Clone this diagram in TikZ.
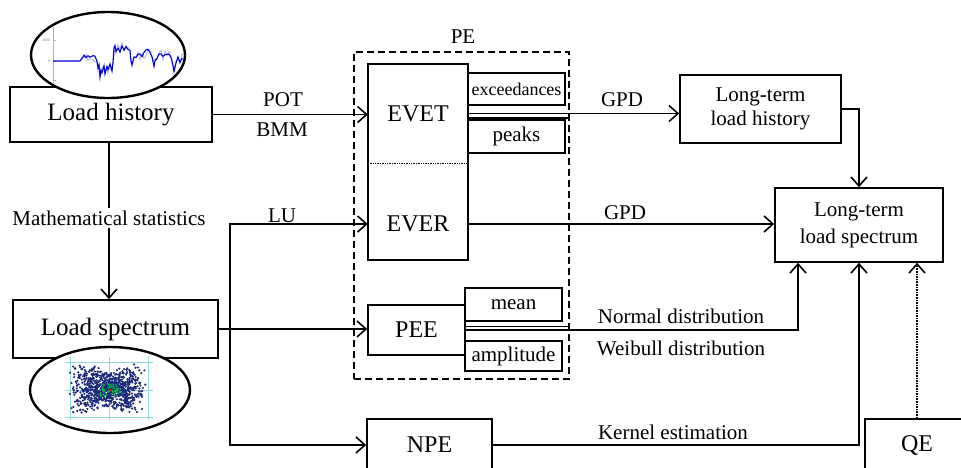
\documentclass[tikz,border=0pt]{standalone}
\usepackage{fontspec}
\setmainfont{Liberation Serif}
\usetikzlibrary{arrows.meta,shapes.geometric}
\definecolor{dotblue}{HTML}{1B2A7A}
\definecolor{gridcyan}{HTML}{8FDADA}

\begin{document}
\begin{tikzpicture}[x=1pt,y=-1pt,
    every node/.style={font=\fontsize{21}{24}\selectfont, inner sep=1pt},
    box/.style={draw, line width=1.6pt, inner sep=0pt},
    big/.style={font=\fontsize{24}{27}\selectfont},
    arr/.style={line width=1.6pt, -{Straight Barb[length=9pt,width=16pt,line width=1.6pt]}},
    lin/.style={line width=1.6pt}]
    \useasboundingbox (0,0) rectangle (961,467);
    \clip (0,0) rectangle (961,467);

    % left column
    \node[box, minimum width=202, minimum height=55, font=\fontsize{25}{28}\selectfont] (hist) at (111,114.5) {Load history};
    \node[box, minimum width=205, minimum height=58, font=\fontsize{25}{28}\selectfont] (spec) at (115.5,329) {Load spectrum};
    \node[draw, ellipse, line width=2.4pt, fill=white, minimum width=154, minimum height=86] (histplot) at (108,55) {};
    \node[draw, ellipse, line width=2.4pt, fill=white, minimum width=160, minimum height=86] (specplot) at (110,390) {};

    % time history inside the upper ellipse
    \begin{scope}
        \clip (histplot.center) ellipse [x radius=75pt, y radius=41pt];
        \draw[gray!60, line width=0.8pt] (53,27) -- (53,84);
        \foreach \ty in {40,61,80} \draw[gray!60, line width=0.6pt] (53,\ty) -- (56,\ty);
        \node[font=\fontsize{4}{4}\selectfont, text=gray, inner sep=0pt] (tk1) at (46,40) {2000};
        \node[font=\fontsize{4}{4}\selectfont, text=gray, inner sep=0pt] (tk2) at (49,61) {0};
        \pgfmathsetseed{42}
        \draw[blue!30, line width=0.8pt] (80,61)
            foreach \px/\py in {82/60,84/57,86/58,88/56,90/55,93/57,95/58,97/62,98/70,99/66,100/75,101/68,102/72,104/65,105/73,107/67,108/72,110/66,112/70,113/64,114/50,115/46,116/52,118/48,120/51,122/46,124/50,126/46,128/50,130/52,131/60,132/64,134/58,136/60,138/56,140/55,142/58,144/54,146/52,148/50,150/53,152/58,154/66,155/62,157/57,159/55,161/52,163/55,165/53,167/56,169/54,171/58,173/66,174/71,176/63,178/58,180/62,182/58,185/60}
            { -- (\px,{\py+5*rand}) };
        \draw[blue!85!black, line width=1.1pt] (53,61) -- (80,61)
            foreach \px/\py in {82/60,84/57,86/58,88/56,90/55,93/57,95/58,97/62,98/70,99/66,100/75,101/68,102/72,104/65,105/73,107/67,108/72,110/66,112/70,113/64,114/50,115/46,116/52,118/48,120/51,122/46,124/50,126/46,128/50,130/52,131/60,132/64,134/58,136/60,138/56,140/55,142/58,144/54,146/52,148/50,150/53,152/58,154/66,155/62,157/57,159/55,161/52,163/55,165/53,167/56,169/54,171/58,173/66,174/71,176/63,178/58,180/62,182/58,185/60}
            { -- (\px,{\py+2.5*rand}) };
    \end{scope}

    % scatter plot inside the lower ellipse
    \begin{scope}
        \clip (specplot.center) ellipse [x radius=78pt, y radius=41pt];
        \foreach \gx in {70,109,148} \draw[gridcyan, line width=0.8pt] (\gx,357) -- (\gx,420);
        \foreach \gy in {362,390,417} \draw[gridcyan, line width=0.8pt] (65,\gy) -- (153,\gy);
        \pgfmathsetseed{7}
        \foreach \i in {1,...,900}{
            \pgfmathsetmacro{\ta}{rand}
            \pgfmathsetmacro{\sg}{ifthenelse(rand<0,-1,1)}
            \pgfmathsetmacro{\dx}{109+26*\ta+14*rand}
            \pgfmathsetmacro{\dy}{389+\sg*12*\ta+13*rand}
            \fill[dotblue] (\dx,\dy) circle (1.2pt);
        }
        \foreach \i in {1,...,40}{
            \pgfmathsetmacro{\dx}{110+10*rand}
            \pgfmathsetmacro{\dy}{390+6*rand}
            \fill[green!45!teal] (\dx,\dy) circle (1.1pt);
        }
        \fill[red] (110,390) circle (1.5pt);
    \end{scope}

    % parameter estimation block
    \node[draw, dashed, dash pattern=on 7pt off 4pt, line width=1.6pt, minimum width=215, minimum height=327] (pe) at (461.5,215.5) {};
    \node (pelbl) at (463,37) {PE};
    \node[big, minimum width=100, minimum height=99] (evet) at (418,113.5) {EVET};
    \node[big, minimum width=100, minimum height=72] (ever) at (418,224) {EVER};
    \draw[lin] (evet.north west) rectangle (ever.south east);
    \draw[line width=1.4pt, densely dotted] (evet.south west) -- (evet.south east);
    \node[box, minimum width=97, minimum height=32, font=\fontsize{18}{20}\selectfont] (exc) at (516.5,89) {exceedances};
    \node[box, minimum width=97, minimum height=33] (peaks) at (516.5,136.5) {peaks};
    \node[box, big, minimum width=97, minimum height=50] (pee) at (416.5,330) {PEE};
    \node[box, minimum width=97, minimum height=33] (mean) at (513.5,304.5) {mean};
    \node[box, minimum width=97, minimum height=30] (ampl) at (513.5,356) {amplitude};
    \node[box, big, minimum width=125, minimum height=52] (npe) at (429.5,445) {NPE};

    % right column
    \node[box, minimum width=161, minimum height=68, align=center] (lth) at (760.5,109) {Long-term\\load history};
    \node[box, minimum width=168, minimum height=74, align=center, font=\fontsize{21}{27}\selectfont] (lts) at (859,225) {Long-term\\load spectrum};
    \node[box, big, minimum width=104, minimum height=52] (qe) at (917,445) {QE};

    % connectors
    \node[fill=white, inner sep=2pt] (mstat) at (109,218) {Mathematical statistics};
    \draw[lin] (hist.south -| mstat.north) -- (mstat.north);
    \draw[arr] (mstat.south) -- (mstat.south |- spec.north);
    \draw[arr] (hist.east) -- (hist.east -| evet.west);
    \node (pot) at (283,100) {POT};
    \node (bmm) at (282,130) {BMM};
    \draw[arr] (spec.east) -- (spec.east -| pee.west);
    \coordinate (br) at (230,329);
    \draw[arr] (br) |- (ever.west);
    \draw[arr] (br) |- (npe.west);
    \node (lu) at (282,216) {LU};
    \draw[arr] (evet.east) -- (evet.east -| lth.west);
    \draw[lin] ([yshift=-4.5pt]evet.east) -- ([yshift=-4.5pt]evet.east -| pe.east);
    \node (gpda) at (622,100) {GPD};
    \draw[arr] (lth.east) -| (lts.north);
    \draw[arr] (ever.east) -- (ever.east -| lts.west);
    \node (gpdb) at (625,213) {GPD};
    \draw[arr] (pee.east) -| ([xshift=-61pt]lts.south);
    \draw[lin] ([yshift=3.5pt]pee.east) -- ([yshift=3.5pt]pee.east -| pe.east);
    \node (normal) at (681,316) {Normal distribution};
    \node (weibull) at (681,348) {Weibull distribution};
    \draw[arr] (npe.east) -| (lts.south);
    \node (kernel) at (673,432) {Kernel estimation};
    \draw[arr, densely dotted] (qe.north) -- (qe.north |- lts.south);
\end{tikzpicture}
\end{document}
